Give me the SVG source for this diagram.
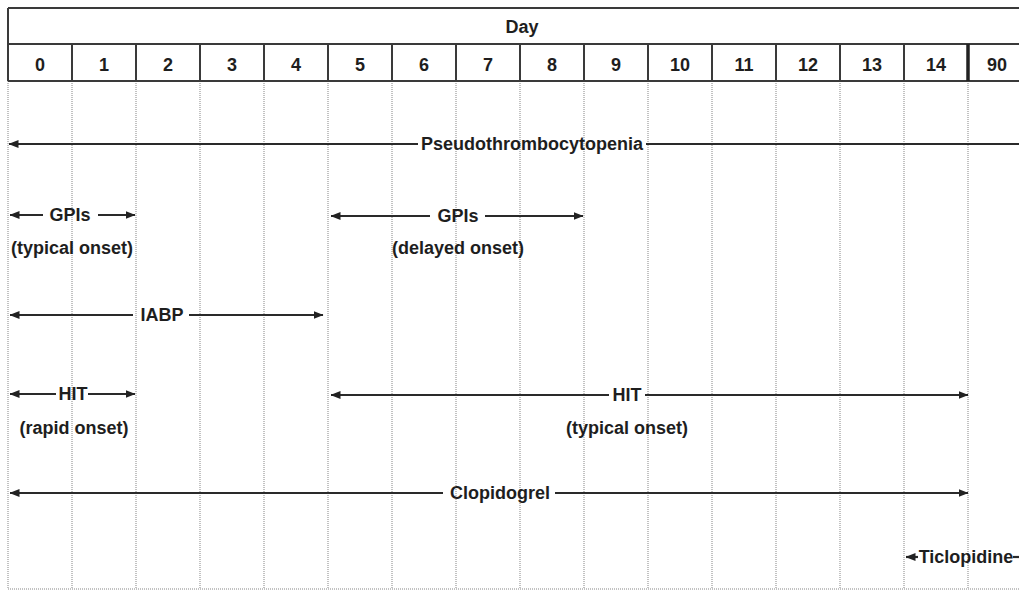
<svg xmlns="http://www.w3.org/2000/svg" width="1019" height="591" viewBox="0 0 1019 591">
<style>
text{font-family:"Liberation Sans",Arial,sans-serif;font-weight:bold;font-size:18px;fill:#1e1e1e;text-anchor:middle}
.hd{stroke:#3a3a3a;stroke-width:2;fill:none}
.grid{stroke:#858585;stroke-width:1;stroke-dasharray:1 1;fill:none}
.ar{stroke:#2a2a2a;stroke-width:2.2;fill:none}
.ah{marker-end:url(#tip)}
</style>
<defs>
<marker id="tip" viewBox="0 0 10 8" refX="9.5" refY="4" markerWidth="10" markerHeight="8" markerUnits="userSpaceOnUse" orient="auto">
<path d="M0,0 L10,4 L0,8 z" fill="#222"/>
</marker>
</defs>
<rect width="1019" height="591" fill="#fff"/>
<g id="grid">
<path class="grid" d="M8,81V589M72,81V589M136,81V589M200,81V589M264,81V589M328,81V589M392,81V589M456,81V589M520,81V589M584,81V589M648,81V589M712,81V589M776,81V589M840,81V589M904,81V589M968,81V589M8,589H1019"/>
</g>
<g id="header">
<path class="hd" d="M8,8H1019M8,44H1019M8,81H1019M8,8V81M72,44V81M136,44V81M200,44V81M264,44V81M328,44V81M392,44V81M456,44V81M520,44V81M584,44V81M648,44V81M712,44V81M776,44V81M840,44V81M904,44V81"/>
<path d="M968,44V81" stroke="#222" stroke-width="3.5"/>
<text x="522" y="33">Day</text>
<text x="40" y="71">0</text>
<text x="104" y="71">1</text>
<text x="168" y="71">2</text>
<text x="232" y="71">3</text>
<text x="296" y="71">4</text>
<text x="360" y="71">5</text>
<text x="424" y="71">6</text>
<text x="488" y="71">7</text>
<text x="552" y="71">8</text>
<text x="616" y="71">9</text>
<text x="680" y="71">10</text>
<text x="744" y="71">11</text>
<text x="808" y="71">12</text>
<text x="872" y="71">13</text>
<text x="936" y="71">14</text>
<text x="997" y="71">90</text>
</g>
<g id="connectors">
<line class="ar ah" x1="418" y1="144" x2="9" y2="144"/>
<line class="ar" x1="646" y1="144" x2="1019" y2="144"/>
<line class="ar ah" x1="43" y1="215" x2="10" y2="215"/>
<line class="ar ah" x1="98" y1="215" x2="135" y2="215"/>
<line class="ar ah" x1="430" y1="216" x2="331" y2="216"/>
<line class="ar ah" x1="485" y1="216" x2="583" y2="216"/>
<line class="ar ah" x1="133" y1="315" x2="10" y2="315"/>
<line class="ar ah" x1="189" y1="315" x2="323" y2="315"/>
<line class="ar ah" x1="56" y1="394" x2="10" y2="394"/>
<line class="ar ah" x1="88" y1="394" x2="135" y2="394"/>
<line class="ar ah" x1="609" y1="395" x2="331" y2="395"/>
<line class="ar ah" x1="645" y1="395" x2="968" y2="395"/>
<line class="ar ah" x1="443" y1="493" x2="10" y2="493"/>
<line class="ar ah" x1="555" y1="493" x2="968" y2="493"/>
<line class="ar ah" x1="918" y1="557" x2="906" y2="557"/>
<line class="ar" x1="1013" y1="557" x2="1019" y2="557"/>
</g>
<g id="pseudothrombocytopenia"><text x="532" y="150">Pseudothrombocytopenia</text></g>
<g id="gpis-typical"><text x="70" y="221">GPIs</text><text x="72" y="254">(typical onset)</text></g>
<g id="gpis-delayed"><text x="458" y="222">GPIs</text><text x="458" y="254">(delayed onset)</text></g>
<g id="iabp"><text x="162" y="321">IABP</text></g>
<g id="hit-rapid"><text x="73" y="400">HIT</text><text x="74" y="434">(rapid onset)</text></g>
<g id="hit-typical"><text x="627" y="401">HIT</text><text x="627" y="434">(typical onset)</text></g>
<g id="clopidogrel"><text x="500" y="499">Clopidogrel</text></g>
<g id="ticlopidine"><text x="966" y="563">Ticlopidine</text></g>
</svg>
